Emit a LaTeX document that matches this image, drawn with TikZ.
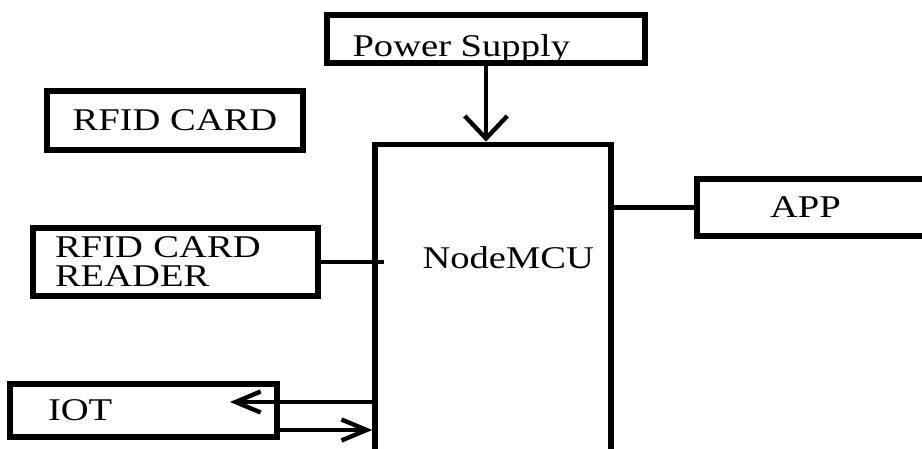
\documentclass[tikz,border=0pt]{standalone}
\usepackage{fontspec}
\setmainfont{Liberation Serif}[FakeStretch=1.22]
\usetikzlibrary{arrows.meta}
\newcommand{\pxu}{0.02cm}
\tikzset{
  box/.style={draw=black, line width=3.2pt, inner sep=0pt},
  lbl/.style={font=\fontsize{18}{16.5}\selectfont},
  conn/.style={line width=2.5pt},
  bigtip/.style={-{Straight Barb[length=0.45cm,width=0.85cm]}},
  smalltip/.style={-{Straight Barb[length=0.5cm,width=0.42cm]}},
}

\begin{document}
\begin{tikzpicture}[x=\pxu, y=-\pxu, every node/.style={lbl}]
    \clip (0,0) rectangle (922,449);

    % blocks
    \node[box, minimum width=318*\pxu, minimum height=48*\pxu] (power) at (486,39) {};
    \node[anchor=base west, inner sep=0pt] (powertxt) at ([shift={(28,44)}]power.north west) {Power Supply};

    \node[box, minimum width=236*\pxu, minimum height=335*\pxu] (mcu) at (493,312) {};
    \node[anchor=base west, inner sep=0pt] (mcutxt) at ([shift={(50,127)}]mcu.north west) {NodeMCU};

    \node[box, minimum width=256*\pxu, minimum height=59*\pxu] (card) at (175,120.5) {RFID CARD};
    \node[box, minimum width=285*\pxu, minimum height=68*\pxu, text width=241*\pxu, align=left] (reader) at (175.5,262) {RFID CARD\\READER};
    \node[box, minimum width=267*\pxu, minimum height=53*\pxu, text width=191*\pxu, align=left] (iot) at (143.5,410.5) {IOT};
    \node[box, minimum width=283*\pxu, minimum height=57*\pxu, text width=137*\pxu, align=left] (app) at (838.5,207.5) {APP};

    % links
    \draw[conn, bigtip] (power.south) -- (power.south |- mcu.north);
    \draw[conn, shorten >=-0.24cm] (reader.east) -- (mcu.west |- reader.east);
    \draw[conn] (mcu.east |- app.west) -- (app.west);

    \coordinate (iotin) at (230,402);
    \coordinate (iotout) at ([shift={(0,19.5)}]iot.east);
    \draw[conn, smalltip] (mcu.west |- iotin) -- (iotin);
    \draw[conn, smalltip] (iotout) -- (mcu.west |- iotout);
\end{tikzpicture}
\end{document}
